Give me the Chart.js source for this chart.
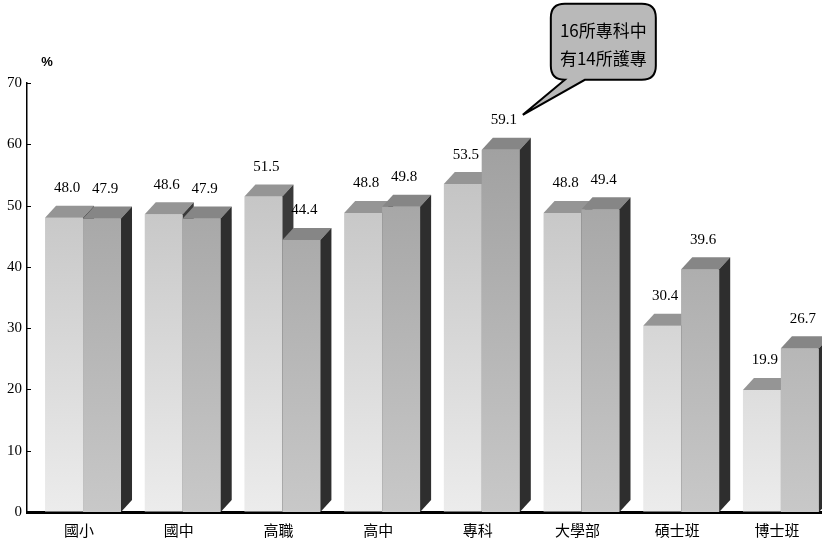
<!DOCTYPE html>
<html><head><meta charset="utf-8">
<script src="https://cdn.jsdelivr.net/npm/chart.js@4.4.1/dist/chart.umd.min.js"></script>
<style>html,body{margin:0;padding:0;background:#fff;overflow:hidden}#wrap{width:822px;height:551px;position:relative}</style>
</head><body><div id="wrap"><canvas id="c" width="822" height="551"></canvas></div>
<script>
const categories = ['國小','國中','高職','高中','專科','大學部','碩士班','博士班'];
const seriesA = [48.0, 48.6, 51.5, 48.8, 53.5, 48.8, 30.4, 19.9];
const seriesB = [47.9, 47.9, 44.4, 49.8, 59.1, 49.4, 39.6, 26.7];
const yTicks = [0, 10, 20, 30, 40, 50, 60, 70];
const unitLabel = '%';
const calloutLines = ['16所專科中', '有14所護專'];
const calloutCategory = 4;   // 專科
const calloutSeries = 1;     // second series (59.1)

const DX = 11, DY = 12;
const frontStops = [['#b8b8b8', '#ececec'], ['#9a9a9a', '#c8c8c8']];
const topColors = ['#959595', '#868686'];
const sideColors = ['#3a3a3a', '#2e2e2e'];

function frontGradient(ctx, area, k) {
  const g = ctx.createLinearGradient(0, area.top, 0, area.bottom);
  g.addColorStop(0, frontStops[k][0]);
  g.addColorStop(1, frontStops[k][1]);
  return g;
}

const bar3d = {
  id: 'bar3d',
  afterDatasetsDraw(chart) {
    const ctx = chart.ctx;
    const area = chart.chartArea;
    const ys = chart.scales.y;
    const base = ys.getPixelForValue(0);
    const metas = [chart.getDatasetMeta(0), chart.getDatasetMeta(1)];
    ctx.save();
    for (let i = 0; i < categories.length; i++) {
      metas.forEach((m, k) => {
        const el = m.data[i];
        const p = el.getProps(['x', 'y', 'width'], true);
        const l = p.x - p.width / 2, r = p.x + p.width / 2, y = p.y;
        if (k === 1) {
          ctx.fillStyle = frontGradient(ctx, area, k);
          ctx.fillRect(l, y, p.width, base - y);
        }
        ctx.fillStyle = topColors[k];
        ctx.beginPath();
        ctx.moveTo(l, y); ctx.lineTo(l + DX, y - DY); ctx.lineTo(r + DX, y - DY); ctx.lineTo(r, y);
        ctx.closePath(); ctx.fill();
        ctx.fillStyle = sideColors[k];
        ctx.beginPath();
        ctx.moveTo(r, y); ctx.lineTo(r + DX, y - DY); ctx.lineTo(r + DX, base - DY); ctx.lineTo(r, base);
        ctx.closePath(); ctx.fill();
      });
    }
    ctx.fillStyle = '#000';
    ctx.font = '15px "Liberation Serif"';
    ctx.textAlign = 'center';
    ctx.textBaseline = 'bottom';
    metas.forEach((m, k) => {
      const vals = k === 0 ? seriesA : seriesB;
      m.data.forEach((el, i) => {
        ctx.fillText(vals[i].toFixed(1), el.x + 3, el.y - 22);
      });
    });
    ctx.strokeStyle = '#000';
    ctx.lineWidth = 1;
    yTicks.forEach(v => {
      const py = Math.round(ys.getPixelForValue(v)) + 0.5;
      ctx.beginPath(); ctx.moveTo(area.left, py); ctx.lineTo(area.left + 4, py); ctx.stroke();
    });
    ctx.font = 'bold 13px "Liberation Sans"';
    ctx.textBaseline = 'middle';
    ctx.fillText(unitLabel, area.left + 20, area.top - 21);

    const el = metas[calloutSeries].data[calloutCategory];
    const tx = el.x + 22, ty = el.y - 35;
    const L = tx + 28, R = tx + 133, T = ty - 111, B = ty - 35, rad = 14;
    const b1 = tx + 42, b2 = tx + 62;
    ctx.beginPath();
    ctx.moveTo(L + rad, T);
    ctx.lineTo(R - rad, T);
    ctx.quadraticCurveTo(R, T, R, T + rad);
    ctx.lineTo(R, B - rad);
    ctx.quadraticCurveTo(R, B, R - rad, B);
    ctx.lineTo(b2, B);
    ctx.lineTo(tx, ty);
    ctx.lineTo(b1, B);
    ctx.lineTo(L + rad, B);
    ctx.quadraticCurveTo(L, B, L, B - rad);
    ctx.lineTo(L, T + rad);
    ctx.quadraticCurveTo(L, T, L + rad, T);
    ctx.closePath();
    ctx.fillStyle = '#b9b9b9';
    ctx.fill();
    ctx.lineWidth = 2;
    ctx.strokeStyle = '#000';
    ctx.stroke();
    ctx.fillStyle = '#000';
    ctx.font = '17px "Noto Sans CJK TC"';
    ctx.textAlign = 'center';
    ctx.textBaseline = 'middle';
    const cx = (L + R) / 2;
    ctx.fillText(calloutLines[0], cx, T + 27);
    ctx.fillText(calloutLines[1], cx, T + 55);
    ctx.restore();
  }
};

const toXY = arr => arr.map((v, i) => ({ x: i, y: v }));

new Chart(document.getElementById('c'), {
  type: 'bar',
  data: {
    datasets: [
      { label: 'A', data: toXY(seriesA), backgroundColor: c => c.chart.chartArea ? frontGradient(c.chart.ctx, c.chart.chartArea, 0) : frontStops[0][0], borderWidth: 0 },
      { label: 'B', data: toXY(seriesB), backgroundColor: c => c.chart.chartArea ? frontGradient(c.chart.ctx, c.chart.chartArea, 1) : frontStops[1][0], borderWidth: 0 }
    ]
  },
  options: {
    responsive: false,
    devicePixelRatio: 1,
    animation: false,
    categoryPercentage: 0.762,
    barPercentage: 1.0,
    layout: { padding: { top: 83, left: 0, right: 0, bottom: 0 } },
    plugins: { legend: { display: false }, tooltip: { enabled: false } },
    scales: {
      x: {
        type: 'linear',
        offset: false,
        min: -0.562,
        max: 7.412,
        afterBuildTicks: s => { s.ticks = categories.map((_, i) => ({ value: i })); },
        afterFit: s => { s.height = 39; },
        ticks: {
          callback: (v, i) => categories[i],
          autoSkip: false, maxRotation: 0, padding: 9, labelOffset: -4,
          color: '#000', font: { family: '"Noto Sans CJK TC"', size: 15 }
        },
        grid: { offset: false, drawOnChartArea: false, drawTicks: false },
        border: { display: true, color: '#000', width: 3 }
      },
      y: {
        min: 0, max: 70,
        afterBuildTicks: s => { s.ticks = yTicks.map(v => ({ value: v })); },
        afterFit: s => { s.width = 27; },
        ticks: { color: '#000', padding: 5, font: { family: '"Liberation Serif"', size: 15 } },
        grid: { drawOnChartArea: false, drawTicks: false },
        border: { display: true, color: '#000', width: 1.5 }
      }
    }
  },
  plugins: [bar3d]
});
</script>
</body></html>
